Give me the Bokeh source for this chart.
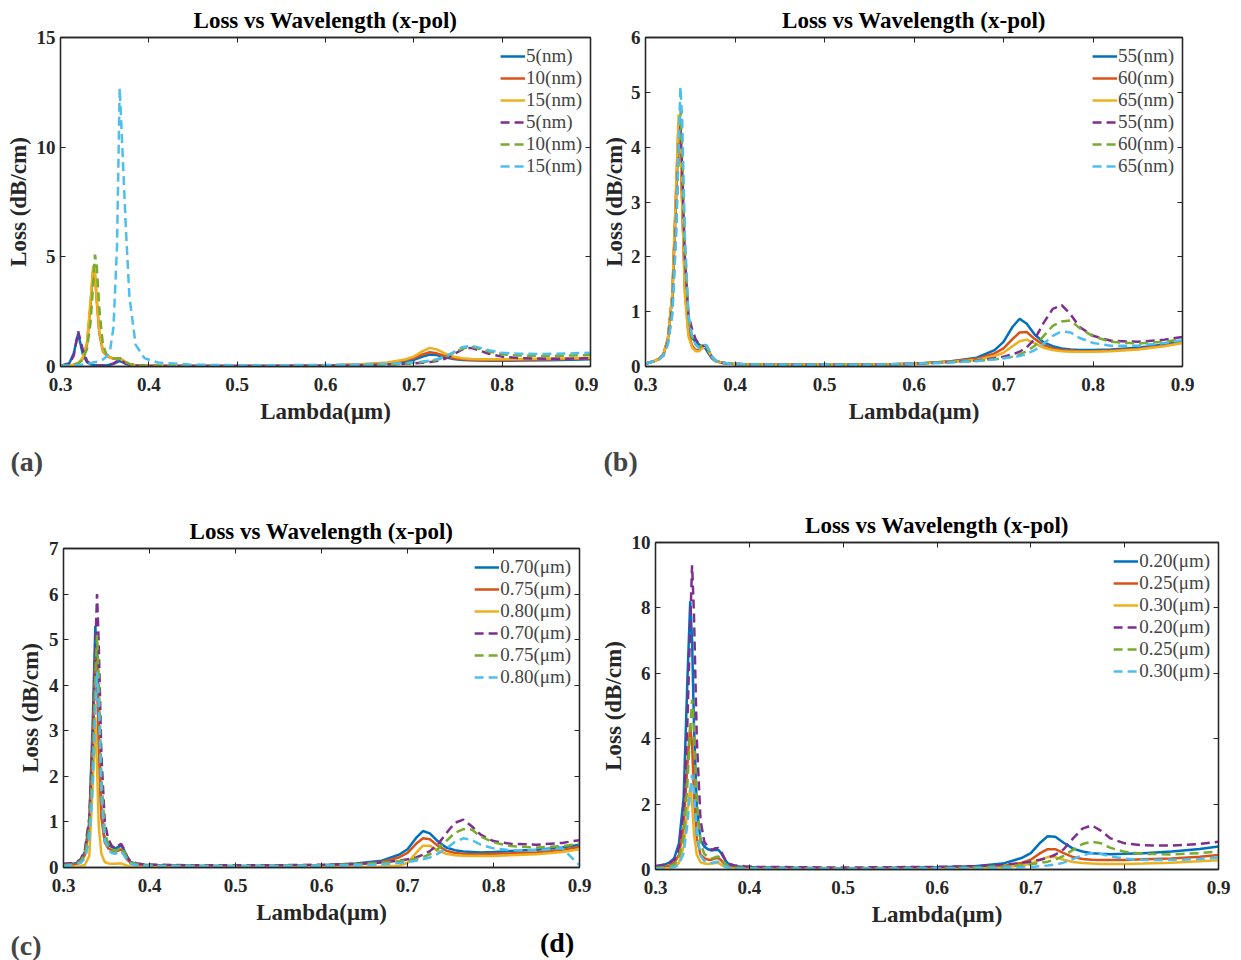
from bokeh.plotting import figure
from bokeh.models import Range1d, FixedTicker, LinearAxis, Legend, LegendItem, Title, Div, GridBox
from bokeh.layouts import row, column
from bokeh.embed import file_html
from bokeh.resources import INLINE

# ---------------- data ----------------
wavelength = [0.300, 0.310, 0.315, 0.320, 0.325, 0.330, 0.334, 0.337, 0.339, 0.341,
              0.344, 0.348, 0.352, 0.356, 0.360, 0.364, 0.367, 0.370, 0.374, 0.378,
              0.385, 0.395, 0.410, 0.450, 0.500, 0.550, 0.600, 0.640, 0.670, 0.690,
              0.700, 0.710, 0.718, 0.726, 0.735, 0.745, 0.755, 0.765, 0.775, 0.785,
              0.800, 0.820, 0.850, 0.880, 0.900]

x_ticks = [0.3, 0.4, 0.5, 0.6, 0.7, 0.8, 0.9]
title_text = "Loss vs Wavelength (x-pol)"
x_label = "Lambda(\u03bcm)"
y_label = "Loss (dB/cm)"

# panel (a)
labels_a = ["5(nm)", "10(nm)", "15(nm)", "5(nm)", "10(nm)", "15(nm)"]
yticks_a = [0, 5, 10, 15]
a_blue = [0.02, 0.15, 0.6, 1.5, 0.6, 0.2, 0.1, 0.07, 0.06, 0.05, 0.05, 0.05, 0.06, 0.08, 0.12, 0.2, 0.25, 0.2, 0.12, 0.08,
          0.05, 0.03, 0.02, 0.02, 0.02, 0.03, 0.05, 0.08, 0.13, 0.22, 0.3, 0.45, 0.55, 0.52, 0.42, 0.34, 0.3, 0.28, 0.27, 0.26,
          0.26, 0.27, 0.29, 0.31, 0.33]
a_orange = [0.02, 0.05, 0.08, 0.15, 0.35, 1.0, 2.8, 4.4, 4.2, 3.0, 1.5, 0.7, 0.5, 0.42, 0.35, 0.34, 0.36, 0.3, 0.18, 0.1,
            0.06, 0.04, 0.03, 0.02, 0.02, 0.03, 0.05, 0.09, 0.16, 0.28, 0.38, 0.55, 0.65, 0.6, 0.48, 0.38, 0.33, 0.3, 0.29, 0.29,
            0.29, 0.3, 0.32, 0.35, 0.37]
a_yellow = [0.02, 0.05, 0.08, 0.16, 0.38, 1.1, 3.0, 4.6, 4.3, 3.1, 1.6, 0.75, 0.52, 0.44, 0.37, 0.35, 0.37, 0.3, 0.18, 0.1,
            0.06, 0.04, 0.03, 0.02, 0.02, 0.03, 0.05, 0.1, 0.18, 0.32, 0.45, 0.7, 0.85, 0.78, 0.6, 0.45, 0.38, 0.34, 0.33, 0.33,
            0.33, 0.34, 0.36, 0.38, 0.4]
a_purple = [0.02, 0.12, 0.5, 1.6, 0.8, 0.25, 0.12, 0.08, 0.07, 0.06, 0.05, 0.05, 0.06, 0.09, 0.14, 0.24, 0.3, 0.24, 0.14, 0.08,
            0.05, 0.03, 0.02, 0.02, 0.02, 0.03, 0.04, 0.06, 0.09, 0.12, 0.14, 0.17, 0.2, 0.25, 0.35, 0.55, 0.78, 0.85, 0.72, 0.58,
            0.45, 0.38, 0.35, 0.36, 0.38]
a_green = [0.02, 0.05, 0.08, 0.14, 0.3, 0.8, 2.0, 3.8, 5.1, 4.6, 2.6, 1.0, 0.55, 0.45, 0.38, 0.36, 0.38, 0.33, 0.2, 0.12,
           0.07, 0.04, 0.03, 0.02, 0.02, 0.03, 0.04, 0.06, 0.09, 0.13, 0.16, 0.2, 0.24, 0.3, 0.42, 0.62, 0.82, 0.9, 0.8, 0.68,
           0.56, 0.5, 0.48, 0.5, 0.53]
a_cyan = [0.02, 0.04, 0.05, 0.07, 0.09, 0.12, 0.15, 0.18, 0.2, 0.22, 0.26, 0.32, 0.45, 0.7, 1.8, 5.5, 12.7, 10.0, 6.3, 3.2,
          1.0, 0.38, 0.18, 0.08, 0.06, 0.06, 0.07, 0.09, 0.12, 0.16, 0.19, 0.23, 0.27, 0.33, 0.45, 0.65, 0.88, 0.95, 0.85, 0.74,
          0.63, 0.58, 0.57, 0.6, 0.63]

# panel (b)
labels_b = ["55(nm)", "60(nm)", "65(nm)", "55(nm)", "60(nm)", "65(nm)"]
yticks_b = [0, 1, 2, 3, 4, 5, 6]
b_blue = [0.05, 0.1, 0.14, 0.22, 0.5, 1.3, 3.0, 4.3, 4.1, 3.0, 1.5, 0.7, 0.52, 0.45, 0.4, 0.36, 0.33, 0.25, 0.15, 0.1,
          0.07, 0.05, 0.04, 0.03, 0.03, 0.03, 0.05, 0.09, 0.16, 0.3, 0.45, 0.72, 0.87, 0.78, 0.58, 0.44, 0.37, 0.33, 0.31, 0.3,
          0.3, 0.31, 0.34, 0.4, 0.46]
b_orange = [0.05, 0.1, 0.14, 0.22, 0.5, 1.3, 3.1, 4.45, 4.2, 3.0, 1.4, 0.6, 0.38, 0.3, 0.3, 0.36, 0.38, 0.3, 0.17, 0.1,
            0.07, 0.05, 0.04, 0.03, 0.03, 0.03, 0.05, 0.09, 0.14, 0.24, 0.33, 0.5, 0.62, 0.63, 0.5, 0.39, 0.33, 0.3, 0.29, 0.28,
            0.28, 0.29, 0.32, 0.38, 0.44]
b_yellow = [0.05, 0.1, 0.14, 0.22, 0.5, 1.35, 3.2, 4.6, 4.3, 3.0, 1.3, 0.55, 0.35, 0.28, 0.28, 0.34, 0.37, 0.3, 0.17, 0.1,
            0.07, 0.05, 0.04, 0.03, 0.03, 0.03, 0.05, 0.08, 0.12, 0.19, 0.25, 0.37, 0.46, 0.49, 0.42, 0.34, 0.3, 0.28, 0.27, 0.27,
            0.27, 0.28, 0.31, 0.37, 0.43]
b_purple = [0.05, 0.1, 0.13, 0.2, 0.45, 1.1, 2.6, 4.0, 4.4, 3.6, 2.0, 0.95, 0.68, 0.5, 0.4, 0.38, 0.38, 0.3, 0.18, 0.11,
            0.07, 0.05, 0.04, 0.03, 0.03, 0.03, 0.05, 0.08, 0.11, 0.15, 0.18, 0.22, 0.27, 0.35, 0.5, 0.8, 1.05, 1.12, 0.95, 0.72,
            0.56, 0.47, 0.45, 0.49, 0.54]
b_green = [0.05, 0.1, 0.13, 0.2, 0.42, 1.0, 2.4, 3.9, 4.7, 4.0, 2.2, 0.9, 0.55, 0.4, 0.35, 0.4, 0.42, 0.33, 0.19, 0.11,
           0.07, 0.05, 0.04, 0.03, 0.03, 0.03, 0.05, 0.08, 0.1, 0.13, 0.15, 0.18, 0.22, 0.28, 0.38, 0.56, 0.74, 0.82, 0.84, 0.7,
           0.55, 0.45, 0.42, 0.45, 0.5]
b_cyan = [0.05, 0.1, 0.13, 0.2, 0.4, 0.95, 2.3, 4.0, 5.1, 4.5, 2.4, 0.95, 0.55, 0.4, 0.33, 0.36, 0.4, 0.32, 0.19, 0.11,
          0.07, 0.05, 0.04, 0.03, 0.03, 0.03, 0.05, 0.07, 0.1, 0.13, 0.15, 0.17, 0.19, 0.23, 0.3, 0.42, 0.56, 0.64, 0.62, 0.52,
          0.43, 0.38, 0.38, 0.43, 0.48]

# panel (c)
labels_c = ["0.70(\u03bcm)", "0.75(\u03bcm)", "0.80(\u03bcm)", "0.70(\u03bcm)", "0.75(\u03bcm)", "0.80(\u03bcm)"]
yticks_c = [0, 1, 2, 3, 4, 5, 6, 7]
c_blue = [0.05, 0.07, 0.1, 0.15, 0.35, 1.0, 3.2, 5.3, 4.6, 2.8, 1.2, 0.6, 0.5, 0.45, 0.42, 0.45, 0.48, 0.4, 0.22, 0.12,
          0.08, 0.06, 0.05, 0.04, 0.03, 0.04, 0.05, 0.09, 0.15, 0.28, 0.4, 0.65, 0.8, 0.75, 0.58, 0.44, 0.38, 0.35, 0.34, 0.33,
          0.34, 0.36, 0.39, 0.44, 0.5]
c_orange = [0.03, 0.05, 0.08, 0.12, 0.28, 0.85, 2.8, 4.6, 4.3, 2.7, 1.1, 0.55, 0.42, 0.38, 0.35, 0.37, 0.4, 0.33, 0.18, 0.1,
            0.07, 0.05, 0.04, 0.03, 0.03, 0.03, 0.04, 0.07, 0.12, 0.22, 0.32, 0.52, 0.64, 0.62, 0.48, 0.37, 0.32, 0.3, 0.29, 0.29,
            0.3, 0.31, 0.33, 0.39, 0.45]
c_yellow = [0.01, 0.01, 0.02, 0.03, 0.06, 0.25, 1.8, 3.3, 2.2, 0.9, 0.3, 0.12, 0.09, 0.08, 0.08, 0.09, 0.09, 0.07, 0.04, 0.02,
            0.01, 0.01, 0.01, 0.01, 0.01, 0.01, 0.01, 0.01, 0.02, 0.04, 0.1, 0.32, 0.48, 0.48, 0.37, 0.3, 0.27, 0.26, 0.25, 0.25,
            0.25, 0.27, 0.29, 0.34, 0.4]
c_purple = [0.08, 0.1, 0.12, 0.18, 0.4, 1.1, 2.8, 4.8, 6.0, 4.9, 2.5, 1.0, 0.62, 0.48, 0.42, 0.48, 0.52, 0.42, 0.24, 0.13,
            0.09, 0.07, 0.06, 0.05, 0.05, 0.05, 0.06, 0.08, 0.11, 0.15, 0.18, 0.22, 0.28, 0.36, 0.5, 0.75, 0.98, 1.05, 0.9, 0.72,
            0.58, 0.52, 0.5, 0.54, 0.6]
c_green = [0.05, 0.07, 0.09, 0.14, 0.3, 0.85, 2.3, 4.2, 5.1, 4.2, 2.0, 0.8, 0.5, 0.4, 0.36, 0.4, 0.44, 0.36, 0.2, 0.11,
           0.07, 0.05, 0.04, 0.04, 0.04, 0.04, 0.05, 0.07, 0.1, 0.14, 0.16, 0.19, 0.23, 0.29, 0.4, 0.58, 0.76, 0.84, 0.83, 0.68,
           0.55, 0.47, 0.44, 0.47, 0.52]
c_cyan = [0.03, 0.05, 0.07, 0.1, 0.2, 0.6, 1.8, 3.4, 4.3, 3.6, 1.6, 0.6, 0.4, 0.32, 0.3, 0.34, 0.36, 0.28, 0.15, 0.08,
          0.05, 0.04, 0.03, 0.03, 0.03, 0.03, 0.04, 0.05, 0.07, 0.1, 0.12, 0.15, 0.18, 0.22, 0.3, 0.42, 0.56, 0.64, 0.6, 0.5,
          0.42, 0.38, 0.38, 0.42, 0.05]

# panel (d)
labels_d = ["0.20(\u03bcm)", "0.25(\u03bcm)", "0.30(\u03bcm)", "0.20(\u03bcm)", "0.25(\u03bcm)", "0.30(\u03bcm)"]
yticks_d = [0, 2, 4, 6, 8, 10]
d_blue = [0.1, 0.15, 0.22, 0.35, 0.8, 2.2, 5.8, 8.2, 7.0, 4.4, 1.9, 0.9, 0.7, 0.62, 0.58, 0.6, 0.6, 0.5, 0.3, 0.16,
          0.1, 0.08, 0.06, 0.05, 0.04, 0.05, 0.07, 0.1, 0.18, 0.35, 0.5, 0.82, 1.02, 1.0, 0.82, 0.64, 0.55, 0.5, 0.48, 0.47,
          0.48, 0.5, 0.55, 0.63, 0.7]
d_orange = [0.05, 0.08, 0.12, 0.2, 0.45, 1.3, 3.2, 4.4, 3.8, 2.3, 0.95, 0.45, 0.35, 0.3, 0.3, 0.34, 0.35, 0.28, 0.15, 0.08,
            0.05, 0.04, 0.03, 0.03, 0.03, 0.03, 0.04, 0.06, 0.11, 0.2, 0.3, 0.5, 0.62, 0.62, 0.5, 0.38, 0.32, 0.3, 0.29, 0.29,
            0.29, 0.31, 0.34, 0.39, 0.44]
d_yellow = [0.02, 0.03, 0.05, 0.08, 0.2, 0.7, 1.8, 2.5, 2.0, 1.1, 0.45, 0.22, 0.18, 0.17, 0.18, 0.2, 0.2, 0.15, 0.08, 0.04,
            0.03, 0.02, 0.02, 0.02, 0.02, 0.02, 0.03, 0.04, 0.07, 0.12, 0.18, 0.3, 0.38, 0.38, 0.3, 0.23, 0.2, 0.18, 0.17, 0.17,
            0.17, 0.18, 0.21, 0.25, 0.28]
d_purple = [0.1, 0.15, 0.2, 0.3, 0.65, 1.8, 4.5, 7.5, 9.3, 7.8, 4.0, 1.5, 0.85, 0.68, 0.6, 0.65, 0.66, 0.55, 0.32, 0.18,
            0.12, 0.1, 0.08, 0.07, 0.06, 0.07, 0.08, 0.1, 0.14, 0.2, 0.24, 0.3, 0.36, 0.45, 0.62, 0.95, 1.25, 1.35, 1.18, 0.95,
            0.8, 0.74, 0.73, 0.78, 0.85]
d_green = [0.05, 0.07, 0.1, 0.15, 0.35, 1.0, 2.6, 4.3, 5.2, 4.3, 2.1, 0.8, 0.48, 0.38, 0.34, 0.38, 0.4, 0.32, 0.18, 0.1,
           0.06, 0.05, 0.04, 0.03, 0.03, 0.03, 0.04, 0.06, 0.09, 0.13, 0.16, 0.2, 0.24, 0.3, 0.42, 0.6, 0.78, 0.85, 0.8, 0.66,
           0.54, 0.48, 0.46, 0.5, 0.55]
d_cyan = [0.02, 0.03, 0.05, 0.07, 0.15, 0.5, 1.4, 2.4, 2.9, 2.4, 1.1, 0.42, 0.26, 0.21, 0.2, 0.23, 0.24, 0.18, 0.1, 0.05,
          0.03, 0.02, 0.02, 0.02, 0.02, 0.02, 0.03, 0.04, 0.05, 0.07, 0.08, 0.1, 0.12, 0.15, 0.21, 0.32, 0.44, 0.5, 0.47, 0.4,
          0.33, 0.29, 0.29, 0.32, 0.37]

# ---------------- styling ----------------
COLORS = ["#0072BD", "#D95319", "#EDB120", "#7E2F8E", "#77AC30", "#4DBEEE"]
DASHES = ["solid", "solid", "solid", "9 5", "9 5", "9 5"]
SERIF = "Liberation Serif"
AXC = "#262626"


def style_axis(ax, ticks, show_labels):
    ax.ticker = FixedTicker(ticks=ticks)
    ax.axis_line_color = AXC
    ax.axis_line_width = 1.3
    ax.major_tick_line_color = AXC
    ax.major_tick_in = 5
    ax.major_tick_out = 0
    ax.minor_tick_line_color = None
    ax.major_label_text_font = SERIF
    ax.major_label_text_font_style = "bold"
    if show_labels:
        ax.major_label_text_color = "#262626"
        ax.major_label_text_font_size = "19px"
        ax.major_label_standoff = 5
    else:
        ax.major_label_text_color = None
        ax.major_label_text_font_size = "1px"
        ax.major_label_standoff = 0


def make_panel(series, labels, ymax, yticks, tag, width, height, bl, br, bt, bb,
               tag_offset, tag_standoff, ylab_standoff=3):
    p = figure(width=width, height=height, min_border_left=bl, min_border_right=br,
               min_border_top=bt, min_border_bottom=bb,
               x_range=Range1d(0.3, 0.9), y_range=Range1d(0, ymax),
               output_backend="svg", toolbar_location=None)
    p.title.text = title_text
    p.title.align = "center"
    p.title.text_font = SERIF
    p.title.text_font_style = "bold"
    p.title.text_font_size = "23px"
    p.title.text_color = "#000000"
    p.xgrid.grid_line_color = None
    p.ygrid.grid_line_color = None
    p.outline_line_color = AXC
    p.outline_line_width = 1.3
    p.background_fill_color = "white"
    p.border_fill_color = "white"

    style_axis(p.xaxis[0], x_ticks, True)
    style_axis(p.yaxis[0], yticks, True)
    p.xaxis[0].major_label_standoff = 11
    p.xaxis[0].axis_label = x_label
    p.yaxis[0].axis_label = y_label
    for ax in (p.xaxis[0], p.yaxis[0]):
        ax.axis_label_text_font = SERIF
        ax.axis_label_text_font_style = "bold"
        ax.axis_label_text_font_size = "23px"
        ax.axis_label_text_color = "#262626"
    p.xaxis[0].axis_label_standoff = 5
    p.yaxis[0].axis_label_standoff = ylab_standoff

    top_ax = LinearAxis()
    style_axis(top_ax, x_ticks, False)
    p.add_layout(top_ax, "above")
    right_ax = LinearAxis()
    style_axis(right_ax, yticks, False)
    p.add_layout(right_ax, "right")

    items = []
    for ys, lab, col, dash in zip(series, labels, COLORS, DASHES):
        r = p.line(wavelength, ys, line_color=col, line_width=2.5, line_dash=dash)
        items.append(LegendItem(label=lab, renderers=[r]))
    leg = Legend(items=items, location="top_right",
                 border_line_color=None, background_fill_alpha=0,
                 label_text_font=SERIF, label_text_font_size="19px",
                 label_height=22, glyph_height=22, glyph_width=25,
                 label_standoff=1, spacing=0, padding=0, margin=8)
    p.add_layout(leg)

    if tag:
        t = Title(text=tag, align="left", offset=tag_offset, text_font=SERIF,
                  text_font_style="bold", text_font_size="28px", standoff=tag_standoff)
        p.add_layout(t, "below")
    return p


pa = make_panel([a_blue, a_orange, a_yellow, a_purple, a_green, a_cyan], labels_a, 15, yticks_a,
                "(a)", 598, 494, 60, 8, 37, 128, -50, 35)
pb = make_panel([b_blue, b_orange, b_yellow, b_purple, b_green, b_cyan], labels_b, 6, yticks_b,
                "(b)", 643, 494, 44, 59, 33, 128, -42, 35, ylab_standoff=1)
pc = make_panel([c_blue, c_orange, c_yellow, c_purple, c_green, c_cyan], labels_c, 7, yticks_c,
                "(c)", 595, 466, 54, 16, 54, 92, -53, 0)
pc.min_border_left = 63
pd = make_panel([d_blue, d_orange, d_yellow, d_purple, d_green, d_cyan], labels_d, 10, yticks_d,
                "", 646, 466, 60, 23, 48, 91, 0, 0)

# the "(d)" tag sits below panel (c)'s frame in the reference: overlay it on (c)'s cell
tag_d = Div(text="(d)", width=42, height=34, align="end", margin=(0, 13, 0, 0),
            styles={"font-family": SERIF, "font-weight": "bold", "font-size": "28px",
                    "line-height": "34px", "color": "#000000"})
cell_c = GridBox(children=[(pc, 0, 0), (tag_d, 0, 0)])

layout = column(row(column(pa), column(pb), spacing=0),
                row(cell_c, column(pd), spacing=0), spacing=0)
open("out.html", "w").write(file_html(layout, INLINE))
